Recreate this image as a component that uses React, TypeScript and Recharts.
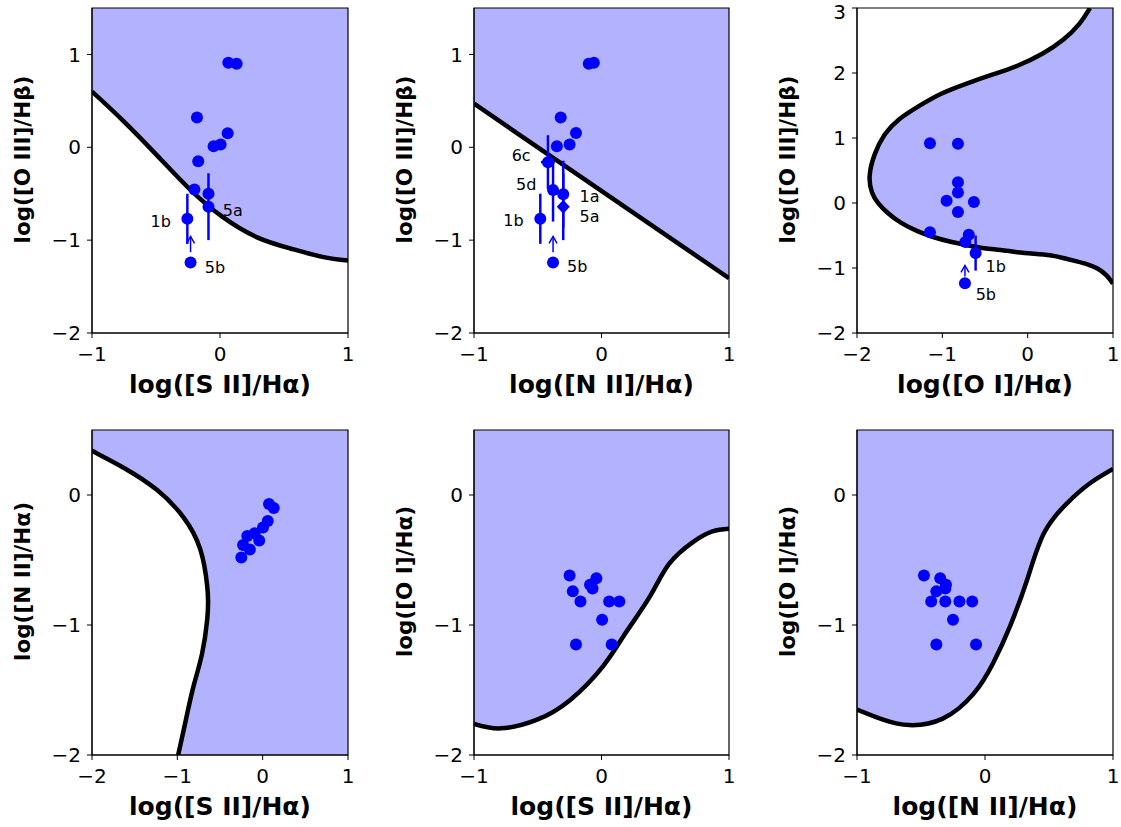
import React from 'react';
import { ComposedChart, Area, Scatter, XAxis, YAxis, ErrorBar, ReferenceArea } from 'recharts';

const FONT = '"DejaVu Sans", "Liberation Sans", sans-serif';
const SHADE = '#b2b2ff';
const BLUE = '#0000ff';

// ---------- panel 1: [S II]/Ha vs [O III]/Hb
const siiCurve = [
  { x: -1, y: 0.6 }, { x: -0.76, y: 0.29 }, { x: -0.49, y: -0.09 }, { x: -0.23, y: -0.46 },
  { x: 0.02, y: -0.75 }, { x: 0.29, y: -0.97 }, { x: 0.55, y: -1.09 }, { x: 0.8, y: -1.18 }, { x: 1, y: -1.22 },
];
const siiPoints = [
  { x: 0.065, y: 0.91 }, { x: 0.13, y: 0.9 }, { x: -0.18, y: 0.32 }, { x: 0.06, y: 0.15 },
  { x: -0.05, y: 0.01 }, { x: 0.005, y: 0.03 }, { x: -0.17, y: -0.15 }, { x: -0.2, y: -0.455 }, { x: -0.09, y: -0.5 },
];
const siiErr = [{ x: -0.09, y: -0.64, ey: 0.36 }, { x: -0.255, y: -0.77, ey: 0.27 }];
const siiLimit = [{ x: -0.23, y: -1.24 }];
const siiArrow = [{ x: -0.23, y: -1.13 }, { x: -0.23, y: -0.96, head: true }];
const siiTags = [
  { x: -0.463, y: -0.8, text: '1b' }, { x: 0.1, y: -0.68, text: '5a' }, { x: -0.04, y: -1.29, text: '5b' },
];

// ---------- panel 2: [N II]/Ha vs [O III]/Hb
const niiLine = [{ x: -1, y: 0.47 }, { x: 1, y: -1.41 }];
const niiPoints = [
  { x: -0.1, y: 0.9 }, { x: -0.06, y: 0.91 }, { x: -0.32, y: 0.32 },
  { x: -0.2, y: 0.155 }, { x: -0.25, y: 0.03 }, { x: -0.35, y: 0.01 },
];
const niiErr = [
  { x: -0.42, y: -0.16, ex: 0.055, ey: 0.29 },
  { x: -0.38, y: -0.46, ex: 0.04, ey: 0.34 },
  { x: -0.3, y: -0.505, ex: 0, ey: 0.36 },
  { x: -0.48, y: -0.77, ex: 0, ey: 0.27 },
];
const niiDiamond = [{ x: -0.3, y: -0.64, ey: 0.36 }];
const niiLimit = [{ x: -0.38, y: -1.24 }];
const niiArrow = [{ x: -0.38, y: -1.13 }, { x: -0.38, y: -0.96, head: true }];
const niiTags = [
  { x: -0.63, y: -0.086, text: '6c' }, { x: -0.59, y: -0.4, text: '5d' }, { x: -0.094, y: -0.53, text: '1a' },
  { x: -0.094, y: -0.75, text: '5a' }, { x: -0.69, y: -0.79, text: '1b' }, { x: -0.19, y: -1.28, text: '5b' },
];

// ---------- panel 3: [O I]/Ha vs [O III]/Hb (curve is x as a function of y)
const oiCurve = [
  { y: -1.24, x: 1.0 }, { y: -1.11, x: 0.93 }, { y: -1.0, x: 0.82 }, { y: -0.94, x: 0.7 },
  { y: -0.9, x: 0.58 }, { y: -0.85, x: 0.43 }, { y: -0.8, x: 0.27 }, { y: -0.78, x: 0.07 },
  { y: -0.76, x: -0.12 }, { y: -0.72, x: -0.32 }, { y: -0.7, x: -0.51 }, { y: -0.65, x: -0.71 },
  { y: -0.6, x: -0.9 }, { y: -0.53, x: -1.1 }, { y: -0.44, x: -1.29 }, { y: -0.31, x: -1.49 },
  { y: -0.16, x: -1.64 }, { y: 0, x: -1.76 }, { y: 0.15, x: -1.83 }, { y: 0.4, x: -1.87 },
  { y: 0.76, x: -1.8 }, { y: 1.07, x: -1.68 }, { y: 1.28, x: -1.53 }, { y: 1.48, x: -1.29 },
  { y: 1.69, x: -1.02 }, { y: 1.84, x: -0.71 }, { y: 1.97, x: -0.43 }, { y: 2.1, x: -0.12 },
  { y: 2.3, x: 0.19 }, { y: 2.5, x: 0.42 }, { y: 2.76, x: 0.62 }, { y: 3, x: 0.73 },
];
const oiPoints = [
  { x: -1.145, y: 0.92 }, { x: -0.817, y: 0.91 }, { x: -0.817, y: 0.32 }, { x: -0.817, y: 0.16 },
  { x: -0.95, y: 0.035 }, { x: -0.63, y: 0.015 }, { x: -0.817, y: -0.14 }, { x: -1.145, y: -0.45 },
  { x: -0.69, y: -0.49 }, { x: -0.73, y: -0.6 },
];
const oiErr = [{ x: -0.61, y: -0.77, ey: 0.27 }];
const oiLimit = [{ x: -0.735, y: -1.235 }];
const oiArrow = [{ x: -0.735, y: -1.13 }, { x: -0.735, y: -0.96, head: true }];
const oiTags = [{ x: -0.375, y: -0.98, text: '1b' }, { x: -0.49, y: -1.415, text: '5b' }];

// ---------- panel 4: [S II]/Ha vs [N II]/Ha (curve is x as a function of y)
const snCurve = [
  { y: -2, x: -0.99 }, { y: -1.73, x: -0.9 }, { y: -1.47, x: -0.81 }, { y: -1.22, x: -0.71 },
  { y: -0.96, x: -0.65 }, { y: -0.83, x: -0.64 }, { y: -0.7, x: -0.65 }, { y: -0.42, x: -0.73 },
  { y: -0.17, x: -0.93 }, { y: 0.04, x: -1.24 }, { y: 0.21, x: -1.63 }, { y: 0.34, x: -2.0 },
  { y: 0.5, x: -2.46 },
];
const snPoints = [
  { x: 0.074, y: -0.07 }, { x: 0.13, y: -0.1 }, { x: 0.06, y: -0.2 }, { x: 0.004, y: -0.25 },
  { x: -0.094, y: -0.295 }, { x: -0.18, y: -0.315 }, { x: -0.04, y: -0.35 }, { x: -0.23, y: -0.385 },
  { x: -0.15, y: -0.42 }, { x: -0.25, y: -0.48 },
];

// ---------- panel 5: [S II]/Ha vs [O I]/Ha
const soCurve = [
  { x: -1, y: -1.76 }, { x: -0.79, y: -1.795 }, { x: -0.51, y: -1.73 }, { x: -0.25, y: -1.58 },
  { x: 0.01, y: -1.32 }, { x: 0.19, y: -1.06 }, { x: 0.38, y: -0.78 }, { x: 0.53, y: -0.53 },
  { x: 0.72, y: -0.36 }, { x: 0.87, y: -0.28 }, { x: 1, y: -0.26 },
];
const soPoints = [
  { x: -0.25, y: -0.62 }, { x: -0.04, y: -0.64 }, { x: -0.09, y: -0.69 }, { x: -0.07, y: -0.72 },
  { x: -0.225, y: -0.74 }, { x: -0.165, y: -0.82 }, { x: 0.06, y: -0.82 }, { x: 0.14, y: -0.82 },
  { x: 0.005, y: -0.96 }, { x: -0.2, y: -1.15 }, { x: 0.08, y: -1.15 },
];

// ---------- panel 6: [N II]/Ha vs [O I]/Ha
const noCurve = [
  { x: -1, y: -1.65 }, { x: -0.79, y: -1.73 }, { x: -0.59, y: -1.77 }, { x: -0.33, y: -1.72 },
  { x: -0.09, y: -1.53 }, { x: 0.065, y: -1.29 }, { x: 0.195, y: -1.01 }, { x: 0.33, y: -0.65 },
  { x: 0.46, y: -0.295 }, { x: 0.64, y: -0.064 }, { x: 0.82, y: 0.09 }, { x: 1, y: 0.2 },
];
const noPoints = [
  { x: -0.477, y: -0.62 }, { x: -0.35, y: -0.64 }, { x: -0.305, y: -0.69 }, { x: -0.31, y: -0.72 },
  { x: -0.38, y: -0.74 }, { x: -0.42, y: -0.82 }, { x: -0.31, y: -0.82 }, { x: -0.2, y: -0.82 },
  { x: -0.1, y: -0.82 }, { x: -0.25, y: -0.96 }, { x: -0.38, y: -1.15 }, { x: -0.07, y: -1.15 },
];

const fmt = (v: number) => (v < 0 ? `\u2212${Math.abs(v)}` : `${v}`);

const dot = (p: any) => <circle cx={p.cx} cy={p.cy} r={6} fill={BLUE} />;
const diamond = (p: any) => (
  <path d={`M${p.cx},${p.cy - 7} L${p.cx + 6.5},${p.cy} L${p.cx},${p.cy + 7} L${p.cx - 6.5},${p.cy} Z`} fill={BLUE} />
);
const arrowHead = (p: any) =>
  p.payload.head ? (
    <path d={`M${p.cx - 4},${p.cy + 7} L${p.cx},${p.cy} L${p.cx + 4},${p.cy + 7}`} stroke={BLUE} strokeWidth={1.5} fill="none" />
  ) : (
    <g />
  );
const tag = (p: any) => (
  <text x={p.cx} y={p.cy} textAnchor="middle" dominantBaseline="central" fontSize={16} fontFamily={FONT} fill="#000">
    {p.payload.text}
  </text>
);

function Panel(props: any) {
  const { pos, xDomain, yDomain, xTicks, yTicks, xLabel, yLabel, vertical, children } = props;
  const [pl, pt, pr, pb] = pos;
  const w = pr - pl + 92 + 6;
  const h = pb - pt + 8 + 72;
  const xTitle = (lp: any) => {
    const vb = lp.viewBox;
    return (
      <text x={vb.x + vb.width / 2} y={vb.y + 60} textAnchor="middle" fontSize={25} fontWeight="bold" fontFamily={FONT} fill="#000">
        {xLabel}
      </text>
    );
  };
  const yTitle = (lp: any) => {
    const vb = lp.viewBox;
    const cx = vb.x + 22;
    const cy = vb.y + vb.height / 2 - 11;
    return (
      <text x={cx} y={cy} transform={`rotate(-90, ${cx}, ${cy})`} textAnchor="middle" dominantBaseline="central" fontSize={21.5} fontWeight="bold" fontFamily={FONT} fill="#000">
        {yLabel}
      </text>
    );
  };
  const tick = { fontSize: 20, fill: '#000', fontFamily: FONT };
  return (
    <div style={{ position: 'absolute', left: pl - 92, top: pt - 8 }}>
      <ComposedChart
        width={w}
        height={h}
        layout={vertical ? 'vertical' : 'horizontal'}
        margin={{ top: 8, right: 6, bottom: 7, left: 0 }}
      >
        <XAxis
          type="number"
          dataKey="x"
          domain={xDomain}
          ticks={xTicks}
          allowDataOverflow
          height={65}
          tick={tick}
          tickFormatter={fmt}
          tickSize={5}
          tickMargin={9}
          tickLine={{ stroke: '#000' }}
          axisLine={{ stroke: '#000' }}
          label={xTitle}
        />
        <YAxis
          type="number"
          dataKey="y"
          domain={yDomain}
          ticks={yTicks}
          allowDataOverflow
          reversed={!!vertical}
          width={92}
          tick={tick}
          tickFormatter={fmt}
          tickSize={5}
          tickMargin={6}
          tickLine={{ stroke: '#000' }}
          axisLine={{ stroke: '#000' }}
          label={yTitle}
        />
        {children}
        <ReferenceArea x1={xDomain[0]} x2={xDomain[1]} y1={yDomain[0]} y2={yDomain[1]} fill="none" stroke="#000" strokeWidth={1.2} strokeOpacity={1} fillOpacity={0} />
      </ComposedChart>
    </div>
  );
}

const curveProps = { stroke: '#000', strokeWidth: 4.5, fill: SHADE, fillOpacity: 1, isAnimationActive: false, dot: false, activeDot: false };

export default function App() {
  return (
    <div style={{ position: 'absolute', left: 0, top: 0, width: 1121, height: 827, overflow: 'hidden', background: '#fff' }}>
      <Panel pos={[92, 8, 348, 333]} xDomain={[-1, 1]} yDomain={[-2, 1.5]} xTicks={[-1, 0, 1]} yTicks={[-2, -1, 0, 1]}
        xLabel="log([S II]/Hα)" yLabel="log([O III]/Hβ)">
        {[
          <Area key="c" data={siiCurve} dataKey="y" type="natural" baseValue={1.5} {...curveProps} />,
          <Scatter key="p" data={siiPoints} shape={dot} isAnimationActive={false} />,
          <Scatter key="e" data={siiErr} shape={dot} isAnimationActive={false}>
            <ErrorBar dataKey="ey" direction="y" width={0} stroke={BLUE} strokeWidth={2.5} />
          </Scatter>,
          <Scatter key="l" data={siiLimit} shape={dot} isAnimationActive={false} />,
          <Scatter key="a" data={siiArrow} shape={arrowHead} line={{ stroke: BLUE, strokeWidth: 1.5 }} isAnimationActive={false} />,
          <Scatter key="t" data={siiTags} shape={tag} isAnimationActive={false} />,
        ]}
      </Panel>

      <Panel pos={[474, 8, 729, 333]} xDomain={[-1, 1]} yDomain={[-2, 1.5]} xTicks={[-1, 0, 1]} yTicks={[-2, -1, 0, 1]}
        xLabel="log([N II]/Hα)" yLabel="log([O III]/Hβ)">
        {[
          <Area key="c" data={niiLine} dataKey="y" type="linear" baseValue={1.5} {...curveProps} />,
          <Scatter key="p" data={niiPoints} shape={dot} isAnimationActive={false} />,
          <Scatter key="e" data={niiErr} shape={dot} isAnimationActive={false}>
            <ErrorBar dataKey="ey" direction="y" width={0} stroke={BLUE} strokeWidth={2.5} />
            <ErrorBar dataKey="ex" direction="x" width={0} stroke={BLUE} strokeWidth={2.5} />
          </Scatter>,
          <Scatter key="d" data={niiDiamond} shape={diamond} isAnimationActive={false}>
            <ErrorBar dataKey="ey" direction="y" width={0} stroke={BLUE} strokeWidth={2.5} />
          </Scatter>,
          <Scatter key="l" data={niiLimit} shape={dot} isAnimationActive={false} />,
          <Scatter key="a" data={niiArrow} shape={arrowHead} line={{ stroke: BLUE, strokeWidth: 1.5 }} isAnimationActive={false} />,
          <Scatter key="t" data={niiTags} shape={tag} isAnimationActive={false} />,
        ]}
      </Panel>

      <Panel pos={[857, 8, 1113, 333]} vertical xDomain={[-2, 1]} yDomain={[-2, 3]} xTicks={[-2, -1, 0, 1]} yTicks={[-2, -1, 0, 1, 2, 3]}
        xLabel="log([O I]/Hα)" yLabel="log([O III]/Hβ)">
        {[
          <Area key="c" data={oiCurve} dataKey="x" type="basis" baseValue={1} {...curveProps} />,
          <Scatter key="p" data={oiPoints} shape={dot} isAnimationActive={false} />,
          <Scatter key="e" data={oiErr} shape={dot} isAnimationActive={false}>
            <ErrorBar dataKey="ey" direction="y" width={0} stroke={BLUE} strokeWidth={2.5} />
          </Scatter>,
          <Scatter key="l" data={oiLimit} shape={dot} isAnimationActive={false} />,
          <Scatter key="a" data={oiArrow} shape={arrowHead} line={{ stroke: BLUE, strokeWidth: 1.5 }} isAnimationActive={false} />,
          <Scatter key="t" data={oiTags} shape={tag} isAnimationActive={false} />,
        ]}
      </Panel>

      <Panel pos={[92, 430, 348, 755]} vertical xDomain={[-2, 1]} yDomain={[-2, 0.5]} xTicks={[-2, -1, 0, 1]} yTicks={[-2, -1, 0]}
        xLabel="log([S II]/Hα)" yLabel="log([N II]/Hα)">
        {[
          <Area key="c" data={snCurve} dataKey="x" type="natural" baseValue={1} {...curveProps} />,
          <Scatter key="p" data={snPoints} shape={dot} isAnimationActive={false} />,
        ]}
      </Panel>

      <Panel pos={[474, 430, 729, 755]} xDomain={[-1, 1]} yDomain={[-2, 0.5]} xTicks={[-1, 0, 1]} yTicks={[-2, -1, 0]}
        xLabel="log([S II]/Hα)" yLabel="log([O I]/Hα)">
        {[
          <Area key="c" data={soCurve} dataKey="y" type="natural" baseValue={0.5} {...curveProps} />,
          <Scatter key="p" data={soPoints} shape={dot} isAnimationActive={false} />,
        ]}
      </Panel>

      <Panel pos={[857, 430, 1113, 755]} xDomain={[-1, 1]} yDomain={[-2, 0.5]} xTicks={[-1, 0, 1]} yTicks={[-2, -1, 0]}
        xLabel="log([N II]/Hα)" yLabel="log([O I]/Hα)">
        {[
          <Area key="c" data={noCurve} dataKey="y" type="natural" baseValue={0.5} {...curveProps} />,
          <Scatter key="p" data={noPoints} shape={dot} isAnimationActive={false} />,
        ]}
      </Panel>
    </div>
  );
}
